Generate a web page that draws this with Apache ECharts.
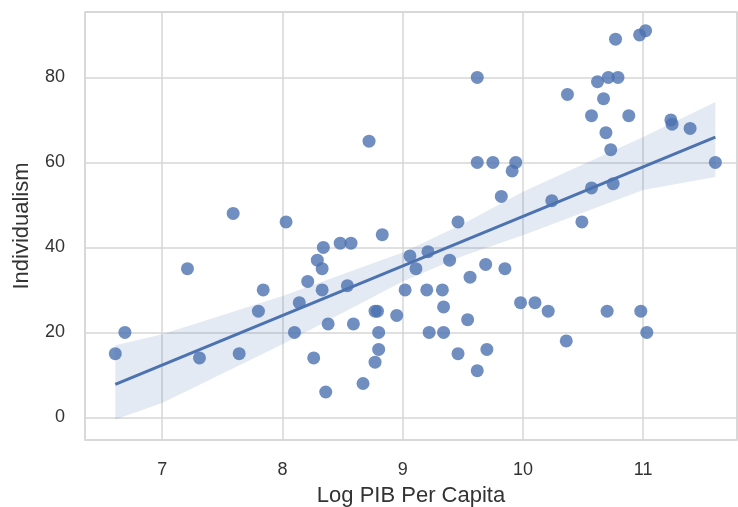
<!DOCTYPE html>
<html>
<head>
<meta charset="utf-8">
<script src="https://cdn.jsdelivr.net/npm/echarts@6/dist/echarts.min.js"></script>
<style>
  html, body { margin: 0; padding: 0; background: #fff; }
  #main { width: 738px; height: 507px; }
</style>
</head>
<body>
<div id="main"></div>
<script>
// Log PIB per capita (x) and Individualism (y)
var log_pib = [6.61, 6.69, 7.21, 7.31, 7.59, 7.64, 7.80, 7.84, 8.03, 8.10,
  8.14, 8.21, 8.26, 8.29, 8.33, 8.33, 8.34, 8.36, 8.38, 8.48,
  8.54, 8.57, 8.59, 8.67, 8.72, 8.77, 8.77, 8.79, 8.80, 8.80,
  8.83, 8.95, 9.02, 9.06, 9.11, 9.20, 9.21, 9.22, 9.33, 9.34,
  9.34, 9.39, 9.46, 9.46, 9.54, 9.56, 9.62, 9.62, 9.62, 9.69,
  9.70, 9.75, 9.82, 9.85, 9.91, 9.94, 9.98, 10.10, 10.21, 10.24,
  10.36, 10.37, 10.49, 10.57, 10.57, 10.62, 10.67, 10.69, 10.70, 10.71,
  10.73, 10.77, 10.75, 10.79, 10.88, 10.98, 10.97, 11.02, 11.03, 11.23,
  11.24, 11.39, 11.60];
var individualism = [15, 20, 35, 14, 48, 15, 25, 30, 46, 20,
  27, 32, 14, 37, 35, 30, 40, 6, 22, 41,
  31, 41, 22, 8, 65, 25, 13, 25, 20, 16,
  43, 24, 30, 38, 35, 30, 39, 20, 30, 26,
  20, 37, 46, 15, 23, 33, 11, 80, 60, 36,
  16, 60, 52, 35, 58, 60, 27, 27, 25, 51,
  18, 76, 46, 71, 54, 79, 75, 67, 25, 80,
  63, 89, 55, 80, 71, 25, 90, 91, 20, 70,
  69, 68, 60];

// confidence band edges
var band_x     = [6.61, 7.0, 8.0, 9.0, 9.5, 10.0, 11.0, 11.60];
var band_upper = [17.0, 19.6, 28.6, 38.8, 45.5, 53.1, 66.0, 74.2];
var band_lower = [-0.5, 3.4, 17.2, 32.0, 38.0, 42.9, 53.5, 56.6];

var blue = '#4c72b0';

// least squares fit line
var n = log_pib.length;
var mx = 0, my = 0;
for (var i = 0; i < n; i++) { mx += log_pib[i]; my += individualism[i]; }
mx /= n; my /= n;
var sxx = 0, sxy = 0;
for (i = 0; i < n; i++) {
    sxx += (log_pib[i] - mx) * (log_pib[i] - mx);
    sxy += (log_pib[i] - mx) * (individualism[i] - my);
}
var slope = sxy / sxx;
var icpt = my - slope * mx;
var xmin = Math.min.apply(null, log_pib), xmax = Math.max.apply(null, log_pib);
var fit_line = [[xmin, icpt + slope * xmin], [xmax, icpt + slope * xmax]];

var points = log_pib.map(function (v, k) { return [v, individualism[k]]; });

var chart = echarts.init(document.getElementById('main'));
var font = 'Liberation Sans, Arial, sans-serif';
var grid_color = '#d6d6d6';

var option = {
    animation: false,
    backgroundColor: '#fff',
    grid: {
        left: 85, right: 1, top: 12, bottom: 67,
        outerBoundsMode: 'none',
        containLabel: false,
        show: true,
        borderColor: grid_color,
        borderWidth: 1.5
    },
    xAxis: {
        type: 'value',
        min: 6.358,
        max: 11.78,
        splitNumber: 5,
        name: 'Log PIB Per Capita',
        nameLocation: 'middle',
        nameGap: 45,
        nameTextStyle: { fontFamily: font, fontSize: 22, color: '#333' },
        axisLine: { show: false },
        axisTick: { show: false },
        axisLabel: {
            showMinLabel: false, showMaxLabel: false,
            margin: 21, fontFamily: font, fontSize: 18, color: '#333'
        },
        splitLine: { lineStyle: { color: grid_color, width: 1.5 } }
    },
    yAxis: {
        type: 'value',
        min: -5.3,
        max: 95.4,
        splitNumber: 5,
        name: 'Individualism',
        nameLocation: 'middle',
        nameGap: 52,
        nameTextStyle: { fontFamily: font, fontSize: 22, color: '#333' },
        axisLine: { show: false },
        axisTick: { show: false },
        axisLabel: {
            showMinLabel: false, showMaxLabel: false,
            margin: 20, fontFamily: font, fontSize: 18, color: '#333'
        },
        splitLine: { lineStyle: { color: grid_color, width: 1.5 } }
    },
    series: [
        {
            type: 'scatter',
            data: points,
            symbolSize: 13,
            itemStyle: { color: blue, opacity: 0.8 },
            z: 2
        },
        {
            type: 'custom',
            data: [0],
            renderItem: function (params, api) {
                var pts = [];
                for (var k = 0; k < band_x.length; k++) pts.push(api.coord([band_x[k], band_upper[k]]));
                for (k = band_x.length - 1; k >= 0; k--) pts.push(api.coord([band_x[k], band_lower[k]]));
                return {
                    type: 'polygon',
                    shape: { points: pts, smooth: 0 },
                    style: { fill: blue, opacity: 0.15 }
                };
            },
            silent: true,
            z: 3
        },
        {
            type: 'line',
            data: fit_line,
            showSymbol: false,
            lineStyle: { color: blue, width: 3 },
            z: 4
        }
    ]
};
chart.setOption(option);
</script>
</body>
</html>
